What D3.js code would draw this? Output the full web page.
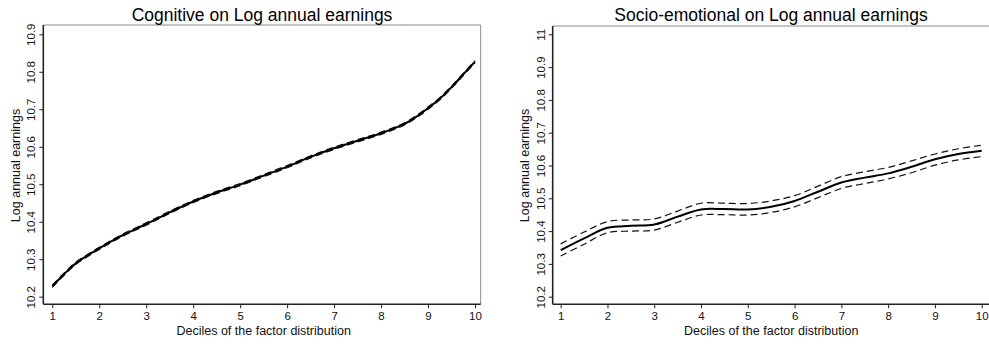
<!DOCTYPE html>
<html>
<head>
<meta charset="utf-8">
<script src="https://cdn.jsdelivr.net/npm/d3@7"></script>
<style>
  body { margin: 0; background: #fff; }
  svg { display: block; font-family: "Liberation Sans", Arial, Helvetica, sans-serif; }
</style>
</head>
<body>
<div id="chart"></div>
<script>
var deciles = [1, 1.25, 1.5, 2, 2.5, 3, 3.5, 4, 4.5, 5, 5.5, 6, 6.5, 7, 7.5, 8, 8.5, 8.75, 9, 9.25, 9.5, 9.75, 10];

var cognitiveFit = [10.228, 10.260, 10.289, 10.329, 10.364, 10.394, 10.425, 10.454, 10.478, 10.499, 10.523, 10.547,
  10.573, 10.596, 10.616, 10.636, 10.661, 10.680, 10.703, 10.728, 10.759, 10.793, 10.827];
var cognitiveLow = [10.225, 10.257, 10.286, 10.326, 10.361, 10.391, 10.422, 10.451, 10.475, 10.496, 10.520, 10.544,
  10.570, 10.593, 10.613, 10.633, 10.658, 10.677, 10.700, 10.725, 10.756, 10.790, 10.824];
var cognitiveHigh = [10.231, 10.263, 10.292, 10.332, 10.367, 10.397, 10.428, 10.457, 10.481, 10.502, 10.526, 10.550,
  10.576, 10.599, 10.619, 10.639, 10.664, 10.683, 10.706, 10.731, 10.762, 10.796, 10.830];

var socioDeciles = [1, 1.5, 2, 2.5, 3, 3.5, 4, 4.5, 5, 5.5, 6, 6.5, 7, 7.5, 8, 8.5, 9, 9.5, 10];
var socioFit = [10.342, 10.378, 10.410, 10.416, 10.420, 10.444, 10.466, 10.467, 10.466, 10.474, 10.492,
  10.520, 10.548, 10.563, 10.576, 10.596, 10.619, 10.635, 10.645];
var socioLow = [10.324, 10.360, 10.395, 10.400, 10.403, 10.427, 10.449, 10.450, 10.449, 10.457, 10.474,
  10.502, 10.530, 10.545, 10.559, 10.578, 10.601, 10.617, 10.627];
var socioHigh = [10.361, 10.397, 10.429, 10.434, 10.437, 10.461, 10.485, 10.485, 10.484, 10.492, 10.508,
  10.537, 10.566, 10.581, 10.594, 10.614, 10.635, 10.651, 10.662];

var xTicks = [1, 2, 3, 4, 5, 6, 7, 8, 9, 10];
var cognitiveYTicks = [10.2, 10.3, 10.4, 10.5, 10.6, 10.7, 10.8, 10.9];
var socioYTicks = [10.2, 10.3, 10.4, 10.5, 10.6, 10.7, 10.8, 10.9, 11];

var titles = ["Cognitive on Log annual earnings", "Socio-emotional on Log annual earnings"];
var xTitle = "Deciles of the factor distribution";
var yTitle = "Log annual earnings";

var W = 989, H = 345;

var svg = d3.select("#chart").append("svg")
  .attr("width", W)
  .attr("height", H);

function drawPanel(p) {
  var x = d3.scaleLinear().domain([1, 10]).range([p.x1, p.x10]);
  var y = d3.scaleLinear().domain([p.yTicks[0], p.yTicks[p.yTicks.length - 1]]).range([p.yBottomTick, p.yTopTick]);

  var g = svg.append("g");

  // frame top/right in grey
  g.append("path")
    .attr("d", "M" + p.left + "," + p.top + "H" + p.right + "V" + p.bottom)
    .attr("fill", "none")
    .attr("stroke", "#8a8a8a")
    .attr("stroke-width", 1);

  var xAxis = g.append("g")
    .attr("transform", "translate(0," + p.bottom + ")")
    .call(d3.axisBottom(x).tickValues(xTicks).tickSize(4).tickSizeOuter(0).tickFormat(d3.format("d")));
  xAxis.select(".domain").attr("d", "M" + p.left + ",0H" + p.right);
  xAxis.selectAll("text").attr("font-size", 11.5).attr("fill", "#111").attr("dy", "0.8em");

  var yAxis = g.append("g")
    .attr("transform", "translate(" + p.left + ",0)")
    .call(d3.axisLeft(y).tickValues(p.yTicks).tickSize(4).tickSizeOuter(0).tickFormat(function(d) { return +d.toFixed(1); }));
  yAxis.select(".domain").attr("d", "M0," + p.top + "V" + p.bottom);
  yAxis.selectAll("text")
    .attr("font-size", 11.5)
    .attr("fill", "#111")
    .attr("x", null)
    .attr("dy", null)
    .attr("text-anchor", "middle")
    .attr("transform", "translate(-8,0) rotate(-90)");

  g.selectAll(".domain").attr("stroke", "#222").attr("stroke-width", 1.6);
  g.selectAll(".tick line").attr("stroke", "#222");

  var line = d3.line()
    .x(function(d) { return x(d[0]); })
    .y(function(d) { return y(d[1]); })
    .curve(d3.curveCatmullRom.alpha(0.5));

  [p.low, p.high].forEach(function(band) {
    g.append("path")
      .datum(p.xs.map(function(d, i) { return [d, band[i]]; }))
      .attr("fill", "none")
      .attr("stroke", "#111")
      .attr("stroke-width", 1.2)
      .attr("stroke-dasharray", "7,4")
      .attr("d", line);
  });

  g.append("path")
    .datum(p.xs.map(function(d, i) { return [d, p.fit[i]]; }))
    .attr("fill", "none")
    .attr("stroke", "#000")
    .attr("stroke-width", 2)
    .attr("d", line);

  g.append("text")
    .attr("x", p.titleX)
    .attr("y", 21)
    .attr("text-anchor", "middle")
    .attr("font-size", 17.5)
    .attr("fill", "#000")
    .text(p.title);

  g.append("text")
    .attr("x", (p.x1 + p.x10) / 2)
    .attr("y", 335)
    .attr("text-anchor", "middle")
    .attr("font-size", 12.5)
    .attr("fill", "#111")
    .text(xTitle);

  g.append("text")
    .attr("transform", "translate(" + p.yTitleX + "," + (p.yTopTick + p.yBottomTick) / 2 + ") rotate(-90)")
    .attr("text-anchor", "middle")
    .attr("font-size", 12.5)
    .attr("fill", "#111")
    .text(yTitle);
}

drawPanel({
  left: 43.3, right: 480.7, top: 25, bottom: 304.3,
  x1: 52.3, x10: 475, yTopTick: 34.3, yBottomTick: 296.7,
  yTicks: cognitiveYTicks, xs: deciles,
  fit: cognitiveFit, low: cognitiveLow, high: cognitiveHigh,
  title: titles[0], titleX: 262, yTitleX: 19.5
});

drawPanel({
  left: 552.7, right: 992, top: 26, bottom: 304.3,
  x1: 560.7, x10: 981.7, yTopTick: 34.3, yBottomTick: 296.7,
  yTicks: socioYTicks, xs: socioDeciles,
  fit: socioFit, low: socioLow, high: socioHigh,
  title: titles[1], titleX: 771, yTitleX: 528.5
});
</script>
</body>
</html>
